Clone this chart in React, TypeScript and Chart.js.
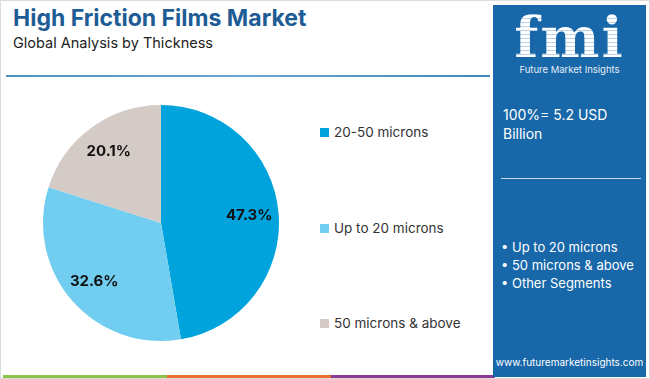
import React, { useEffect, useRef } from "react";
import { Chart, registerables } from "chart.js";

Chart.register(...registerables);

const categories = ["20-50 microns", "Up to 20 microns", "50 microns & above"];
const shares = [47.3, 32.6, 20.1];
const colors = ["#00a3dc", "#72cef1", "#d4cbc7"];
const panelBullets = ["Up to 20 microns", "50 microns & above", "Other Segments"];
const totalText = "100%= 5.2 USD Billion";

const FONT = "Inter, 'Open Sans', sans-serif";

const labelPlugin = {
  id: "sliceLabels",
  afterDatasetsDraw(chart: any) {
    const ctx = chart.ctx;
    const meta = chart.getDatasetMeta(0);
    ctx.save();
    ctx.font = `bold 15px ${FONT}`;
    ctx.fillStyle = "#111";
    ctx.textAlign = "center";
    ctx.textBaseline = "middle";
    meta.data.forEach((arc: any, i: number) => {
      const p = arc.getProps(["x", "y", "startAngle", "endAngle", "outerRadius"], true);
      const mid = (p.startAngle + p.endAngle) / 2;
      const r = p.outerRadius * 0.75;
      const x = p.x + Math.cos(mid) * r;
      const y = p.y + Math.sin(mid) * r;
      ctx.fillText(shares[i].toFixed(1) + "%", x, y);
    });
    ctx.restore();
  },
};

export default function App() {
  const ref = useRef<HTMLCanvasElement>(null);
  useEffect(() => {
    if (!ref.current) return;
    const chart = new Chart(ref.current, {
      type: "pie",
      data: {
        labels: categories,
        datasets: [{ data: shares, backgroundColor: colors, borderWidth: 0, hoverOffset: 0 }],
      },
      options: {
        animation: false,
        responsive: false,
        maintainAspectRatio: false,
        layout: { padding: 0 },
        plugins: { legend: { display: false }, tooltip: { enabled: false } },
      },
      plugins: [labelPlugin],
    });
    return () => chart.destroy();
  }, []);

  const legendTops = [131, 227, 322];
  const stripe = ["#8bc34a", "#e8702a", "#8c3b93"];

  return (
    <div
      style={{
        position: "fixed",
        left: 0,
        top: 0,
        width: 650,
        height: 379,
        background: "#fff",
        fontFamily: FONT,
        overflow: "hidden",
        boxSizing: "border-box",
        border: "1px solid #dcdcdc",
      }}
    >
      <div style={{ position: "absolute", left: 12, top: 3, fontSize: 23, fontWeight: 700, color: "#1d5c94", whiteSpace: "nowrap" }}>
        High Friction Films Market
      </div>
      <div style={{ position: "absolute", left: 12, top: 33, fontSize: 14.5, color: "#222", whiteSpace: "nowrap" }}>
        Global Analysis by Thickness
      </div>
      <div style={{ position: "absolute", left: 5, top: 74, width: 484, height: 2, background: "linear-gradient(90deg,#4d92c2,#6aa6cf,#3f87bb)" }} />

      <div style={{ position: "absolute", left: 42, top: 104, width: 236, height: 236 }}>
        <canvas ref={ref} width={236} height={236} style={{ width: 236, height: 236 }} />
      </div>

      {categories.map((c, i) => (
        <div key={c} style={{ position: "absolute", left: 319, top: legendTops[i] - 10, height: 20, display: "flex", alignItems: "center", whiteSpace: "nowrap" }}>
          <span style={{ display: "inline-block", width: 9, height: 9, background: colors[i], marginRight: 5 }} />
          <span style={{ fontSize: 13.5, color: "#333" }}>{c}</span>
        </div>
      ))}

      {stripe.map((s, i) => (
        <div key={s} style={{ position: "absolute", left: 2 + i * 164, top: 374, width: 164, height: 5, background: s }} />
      ))}

      <div style={{ position: "absolute", left: 492, top: 4, width: 153, height: 372, background: "#1767a9", color: "#fff" }}>
        <div style={{ position: "absolute", left: 0, width: 153, top: 2, textAlign: "center", fontFamily: "'DejaVu Serif', serif", fontWeight: 700, fontSize: 56, lineHeight: "60px", letterSpacing: 2,
          backgroundImage: "repeating-linear-gradient(180deg,#ffffff 0px,#ffffff 3px,#b9d2e8 3px,#b9d2e8 4px)", WebkitBackgroundClip: "text", backgroundClip: "text", color: "transparent" }}>
          fmi
        </div>
        <div style={{ position: "absolute", left: 0, width: 153, top: 59, textAlign: "center", fontSize: 9.5, color: "#e6eef6", whiteSpace: "nowrap" }}>
          Future Market Insights
        </div>
        <div style={{ position: "absolute", left: 10, top: 100, width: 130, fontSize: 14, lineHeight: "19px" }}>
          {totalText}
        </div>
        <div style={{ position: "absolute", left: 8, top: 173, width: 140, height: 1, background: "#c7d9ea" }} />
        {panelBullets.map((b, i) => (
          <div key={b} style={{ position: "absolute", left: 8, top: 234 + i * 18, fontSize: 13, whiteSpace: "nowrap" }}>
            {"• " + b}
          </div>
        ))}
        <div style={{ position: "absolute", left: 0, width: 153, top: 351, textAlign: "center", fontSize: 10, whiteSpace: "nowrap" }}>
          www.futuremarketinsights.com
        </div>
      </div>
    </div>
  );
}
